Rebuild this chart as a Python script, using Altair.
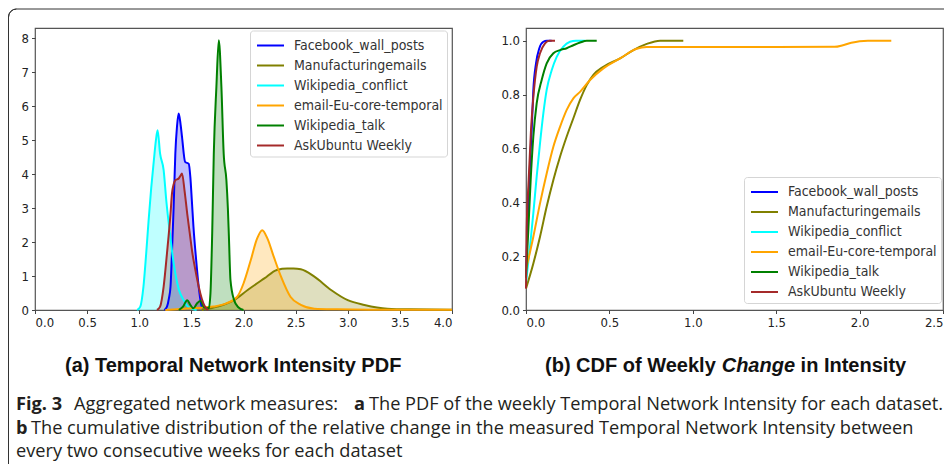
import altair as alt
import pandas as pd

# ---------------- data ----------------
names = ["Facebook_wall_posts", "Manufacturingemails", "Wikipedia_conflict",
         "email-Eu-core-temporal", "Wikipedia_talk", "AskUbuntu Weekly"]
colors = ["#0000ff", "#808000", "#00ffff", "#ffa500", "#008000", "#a52a2a"]

# (a) PDF of weekly Temporal Network Intensity
pdf_fb_x = [1.24, 1.266, 1.285, 1.30, 1.315, 1.33, 1.346, 1.362, 1.378, 1.395, 1.41, 1.44, 1.475, 1.49, 1.505, 1.52, 1.545, 1.57, 1.60, 1.63]
pdf_fb_y = [0, 0.1, 0.35, 0.69, 1.8, 3.04, 4.6, 5.4, 5.78, 5.5, 5.1, 4.36, 4.3, 3.92, 3.2, 2.45, 1.5, 0.69, 0.1, 0]
pdf_mf_x = [1.6, 1.75, 1.91, 2.04, 2.2, 2.32, 2.42, 2.48, 2.55, 2.68, 2.84, 3.0, 3.16, 3.38, 3.6, 4.0]
pdf_mf_y = [0, 0.1, 0.29, 0.59, 0.93, 1.18, 1.22, 1.22, 1.2, 0.98, 0.59, 0.29, 0.15, 0.04, 0.02, 0.01]
pdf_wc_x = [0.98, 1.01, 1.04, 1.065, 1.09, 1.115, 1.14, 1.16, 1.176, 1.20, 1.234, 1.26, 1.298, 1.32, 1.346, 1.38, 1.426, 1.46, 1.50, 1.55]
pdf_wc_y = [0, 0.1, 0.68, 1.6, 2.65, 3.6, 4.4, 5.0, 5.29, 4.6, 4.12, 3.2, 2.16, 1.6, 1.08, 0.6, 0.29, 0.12, 0.04, 0]
pdf_eu_x = [1.25, 1.4, 1.55, 1.71, 1.84, 1.94, 2.0, 2.07, 2.13, 2.18, 2.23, 2.29, 2.36, 2.45, 2.55, 2.68, 2.9, 3.2, 3.6, 4.0]
pdf_eu_y = [0, 0.03, 0.06, 0.1, 0.2, 0.39, 0.78, 1.47, 2.1, 2.35, 2.1, 1.57, 0.98, 0.39, 0.15, 0.04, 0.02, 0.01, 0.01, 0.01]
pdf_wt_x = [1.38, 1.42, 1.46, 1.49, 1.52, 1.555, 1.59, 1.62, 1.667, 1.683, 1.70, 1.715, 1.74, 1.763, 1.788, 1.81, 1.836, 1.85, 1.86, 1.875, 1.91, 1.95, 2.0]
pdf_wt_y = [0, 0.1, 0.29, 0.15, 0.05, 0.2, 0.27, 0.08, 0.05, 0.49, 2.3, 4.6, 6.57, 7.94, 6.57, 4.6, 3.82, 3.0, 2.16, 0.88, 0.29, 0.08, 0]
pdf_au_x = [1.17, 1.20, 1.234, 1.266, 1.30, 1.314, 1.33, 1.346, 1.378, 1.395, 1.41, 1.435, 1.46, 1.485, 1.51, 1.54, 1.57, 1.60, 1.63, 1.66]
pdf_au_y = [0, 0.1, 0.69, 1.67, 2.84, 3.43, 3.7, 3.82, 3.87, 3.95, 4.02, 3.5, 2.84, 2.25, 1.67, 1.15, 0.69, 0.33, 0.1, 0]

# (b) CDF of weekly change in intensity
cdf_fb_x = [0.0, 0.004, 0.008, 0.014, 0.02, 0.027, 0.034, 0.044, 0.06, 0.08, 0.104, 0.125, 0.154]
cdf_fb_y = [0.12, 0.2, 0.297, 0.4, 0.483, 0.58, 0.668, 0.817, 0.916, 0.972, 0.996, 1.0, 1.0]
cdf_mf_x = [0.0, 0.044, 0.084, 0.124, 0.164, 0.204, 0.244, 0.284, 0.324, 0.364, 0.404, 0.464, 0.564, 0.644, 0.724, 0.804, 0.87, 0.943]
cdf_mf_y = [0.08, 0.173, 0.272, 0.384, 0.483, 0.569, 0.644, 0.712, 0.78, 0.835, 0.873, 0.903, 0.934, 0.965, 0.988, 1.0, 1.0, 1.0]
cdf_wc_x = [0.0, 0.012, 0.024, 0.044, 0.064, 0.084, 0.104, 0.124, 0.154, 0.184, 0.224, 0.264, 0.3, 0.354]
cdf_wc_y = [0.1, 0.17, 0.235, 0.36, 0.495, 0.619, 0.73, 0.817, 0.89, 0.94, 0.978, 0.996, 1.0, 1.0]
cdf_eu_x = [0.0, 0.044, 0.084, 0.124, 0.164, 0.204, 0.244, 0.284, 0.324, 0.384, 0.464, 0.564, 0.664, 0.724, 1.0, 1.5, 1.85, 1.9, 1.95, 2.0, 2.05, 2.19]
cdf_eu_y = [0.15, 0.272, 0.396, 0.507, 0.606, 0.68, 0.743, 0.786, 0.81, 0.854, 0.897, 0.934, 0.97, 0.976, 0.976, 0.976, 0.977, 0.983, 0.992, 0.998, 1.0, 1.0]
cdf_wt_x = [0.0, 0.006, 0.014, 0.028, 0.044, 0.064, 0.094, 0.124, 0.164, 0.204, 0.244, 0.284, 0.324, 0.364, 0.424]
cdf_wt_y = [0.12, 0.2, 0.297, 0.483, 0.644, 0.767, 0.854, 0.916, 0.953, 0.965, 0.972, 0.983, 0.993, 1.0, 1.0]
cdf_au_x = [0.0, 0.004, 0.016, 0.03, 0.044, 0.064, 0.084, 0.114, 0.14, 0.174]
cdf_au_y = [0.08, 0.297, 0.483, 0.668, 0.79, 0.903, 0.953, 0.99, 1.0, 1.0]

pdf_x_ticks = [0.0, 0.5, 1.0, 1.5, 2.0, 2.5, 3.0, 3.5, 4.0]
pdf_y_ticks = [0, 1, 2, 3, 4, 5, 6, 7, 8]
cdf_x_ticks = [0.0, 0.5, 1.0, 1.5, 2.0, 2.5]
cdf_y_ticks = [0.0, 0.2, 0.4, 0.6, 0.8, 1.0]

subtitle_a = "(a) Temporal Network Intensity PDF"
subtitle_b = ["(b) CDF of Weekly", "Change", "in Intensity"]
caption_1 = ["Fig. 3", "Aggregated network measures:", "a",
             "The PDF of the weekly Temporal Network Intensity for each dataset."]
caption_2 = ["b", "The cumulative distribution of the relative change in the measured Temporal Network Intensity between"]
caption_3 = "every two consecutive weeks for each dataset"

# ---------------- tables ----------------
def build(xs_list, ys_list):
    rows = []
    for name, xs, ys in zip(names, xs_list, ys_list):
        for x, y in zip(xs, ys):
            rows.append({"series": name, "x": x, "y": y})
    return pd.DataFrame(rows)

pdf_df = build([pdf_fb_x, pdf_mf_x, pdf_wc_x, pdf_eu_x, pdf_wt_x, pdf_au_x],
               [pdf_fb_y, pdf_mf_y, pdf_wc_y, pdf_eu_y, pdf_wt_y, pdf_au_y])
cdf_df = build([cdf_fb_x, cdf_mf_x, cdf_wc_x, cdf_eu_x, cdf_wt_x, cdf_au_x],
               [cdf_fb_y, cdf_mf_y, cdf_wc_y, cdf_eu_y, cdf_wt_y, cdf_au_y])
one = pd.DataFrame({"k": [0]})

cscale = alt.Scale(domain=names, range=colors)
LEG_FONT = "DejaVu Sans Condensed, DejaVu Sans"
SUB_FONT = "Liberation Sans, Arial, sans-serif"
CAP_FONT = "Open Sans, Lato, sans-serif"
CAP = 18.2


def legend(x, y):
    return alt.Legend(orient="none", legendX=x, legendY=y, title=None,
                      symbolType="M-0.8,0H1.9", symbolStrokeWidth=2, symbolSize=400,
                      labelFont=LEG_FONT, labelFontSize=14, labelColor="#333",
                      rowPadding=2, padding=4, labelOffset=18,
                      strokeColor="#d5d5d5", fillColor="white", cornerRadius=3)


def txt(text, x, y, font, size, weight="normal", style="normal", align="left", color="#231f20"):
    return alt.Chart(one).mark_text(text=text, font=font, fontSize=size, fontWeight=weight,
                                    fontStyle=style, align=align, baseline="middle",
                                    color=color).encode(x=alt.value(x), y=alt.value(y))


# ---------------- panel (a) ----------------
xa = alt.X("x:Q", scale=alt.Scale(domain=[0, 4], nice=False, zero=False),
           axis=alt.Axis(values=pdf_x_ticks, format=".1f", title=None))
ya = alt.Y("y:Q", stack=None, scale=alt.Scale(domain=[0, 8.3], nice=False),
           axis=alt.Axis(values=pdf_y_ticks, format="d", title=None))
area_a = alt.Chart(pdf_df).mark_area(fillOpacity=0.25, interpolate="monotone").encode(
    x=xa, y=ya, fill=alt.Fill("series:N", scale=cscale, legend=None))
line_a = alt.Chart(pdf_df).mark_line(strokeWidth=2, interpolate="monotone").encode(
    x=xa, y=ya, color=alt.Color("series:N", scale=cscale, legend=legend(215, 2.5)))

frame_top = alt.Chart(one).mark_rule(color="#333", strokeWidth=1).encode(
    x=alt.value(-18.5), x2=alt.value(910), y=alt.value(-19))
frame_left = alt.Chart(one).mark_rule(color="#333", strokeWidth=1).encode(
    x=alt.value(-26.5), y=alt.value(-11), y2=alt.value(436))
frame_corner = alt.Chart(one).mark_arc(radius=8, radius2=8, theta=4.7124, theta2=6.2832,
                                       fillOpacity=0, stroke="#333", strokeWidth=1).encode(
    x=alt.value(-18.5), y=alt.value(-11))

texts_a = [
    txt(subtitle_a, 30, 338, SUB_FONT, 20, weight="bold", color="#111"),
    txt(caption_1[0], -19, 377, CAP_FONT, CAP, weight="bold"),
    txt(caption_1[1], 39, 377, CAP_FONT, CAP),
    txt(caption_1[2], 319, 377, CAP_FONT, CAP, weight="bold"),
    txt(caption_1[3], 334, 377, CAP_FONT, CAP),
    txt(caption_2[0], -19, 401, CAP_FONT, CAP, weight="bold"),
    txt(caption_2[1], -4, 401, CAP_FONT, CAP),
    txt(caption_3, -19, 424, CAP_FONT, CAP),
]

left = alt.layer(area_a, line_a, frame_top, frame_left, frame_corner, *texts_a).properties(
    width=417, height=282)

# ---------------- panel (b) ----------------
xb = alt.X("x:Q", scale=alt.Scale(domain=[0, 2.5], nice=False, zero=False),
           axis=alt.Axis(values=cdf_x_ticks, format=".1f", title=None))
yb = alt.Y("y:Q", scale=alt.Scale(domain=[0, 1.047], nice=False),
           axis=alt.Axis(values=cdf_y_ticks, format=".1f", title=None))
line_b = alt.Chart(cdf_df).mark_line(strokeWidth=2, interpolate="monotone").encode(
    x=xb, y=yb, color=alt.Color("series:N", scale=cscale, legend=legend(218, 149)))

texts_b = [
    txt(subtitle_b[0], 19, 338, SUB_FONT, 20, weight="bold", color="#111"),
    txt(subtitle_b[1], 195.7, 338, SUB_FONT, 20, weight="bold", style="italic", color="#111"),
    txt(subtitle_b[2], 274.6, 338, SUB_FONT, 20, weight="bold", color="#111"),
]

right = alt.layer(line_b, *texts_b).properties(width=417, height=282)

chart = alt.hconcat(left, right, spacing=74, bounds="flush").resolve_scale(
    color="independent").resolve_legend(color="independent").properties(
    autosize=alt.AutoSizeParams(type="none"),
    padding={"left": 27, "top": 20, "right": 909, "bottom": 435},
    background="white").configure_view(
    stroke="#555", strokeWidth=1.2).configure_axis(
    domain=False, grid=False, ticks=True, tickColor="#444", tickSize=3.5, tickWidth=1,
    labelColor="#222", labelFont=LEG_FONT, labelFontSize=13, labelPadding=3)

chart.save("out.html", embed_options={"renderer": "svg", "actions": False})
